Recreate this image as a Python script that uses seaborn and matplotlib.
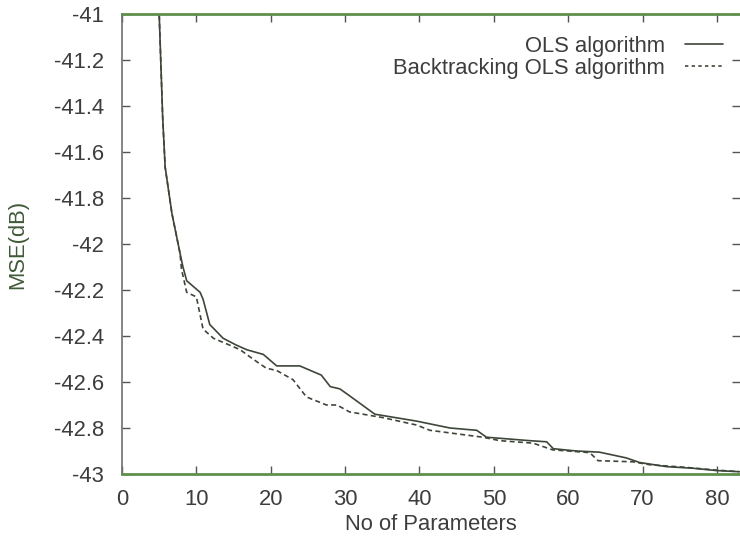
import numpy as np
import pandas as pd
import matplotlib
matplotlib.use("Agg")
import matplotlib.pyplot as plt
import seaborn as sns

# MSE (dB) against the number of model terms for both selection schemes
ols_x = [4.97, 5.24, 5.47, 5.8, 6.7, 7.8, 8.2, 8.7, 10.5, 10.9, 11.8, 13.6, 15.4,
         16.8, 19.0, 20.8, 23.9, 26.8, 28.0, 29.3, 30.6, 34.0, 39.6, 44.1, 47.7,
         49.0, 54.8, 57.1, 58.0, 61.1, 64.2, 67.8, 69.6, 73.2, 76.8, 79.9, 83.0]
ols_y = [-40.97, -41.23, -41.45, -41.665, -41.865, -42.04, -42.10, -42.16, -42.21,
         -42.24, -42.35, -42.41, -42.44, -42.46, -42.48, -42.53, -42.53, -42.57,
         -42.62, -42.63, -42.66, -42.74, -42.77, -42.80, -42.81, -42.84, -42.855,
         -42.86, -42.89, -42.90, -42.905, -42.93, -42.95, -42.968, -42.975, -42.985,
         -42.99]

bols_x = [4.97, 5.24, 5.47, 5.8, 6.7, 7.8, 8.0, 8.7, 10.0, 10.9, 12.3, 14.5, 15.9,
          17.6, 19.4, 20.8, 23.0, 24.8, 27.5, 28.9, 30.6, 35.1, 39.6, 41.4, 48.5,
          50.8, 55.3, 57.9, 62.9, 64.0, 68.7, 71.0, 75.4, 79.9, 83.0]
bols_y = [-40.97, -41.23, -41.45, -41.665, -41.865, -42.04, -42.11, -42.21, -42.23,
          -42.37, -42.41, -42.44, -42.46, -42.50, -42.54, -42.55, -42.59, -42.665,
          -42.70, -42.70, -42.73, -42.755, -42.787, -42.81, -42.84, -42.855, -42.866,
          -42.895, -42.907, -42.942, -42.947, -42.96, -42.97, -42.983, -42.99]

series_names = ["OLS algorithm", "Backtracking OLS algorithm"]
x_ticks = [0, 10, 20, 30, 40, 50, 60, 70, 80]
y_ticks = [-43, -42.8, -42.6, -42.4, -42.2, -42, -41.8, -41.6, -41.4, -41.2, -41]

df = pd.concat([
    pd.DataFrame({"params": ols_x, "mse": ols_y, "method": series_names[0]}),
    pd.DataFrame({"params": bols_x, "mse": bols_y, "method": series_names[1]}),
], ignore_index=True)

sns.set_theme(style="ticks")
plt.rcParams["font.family"] = ["Liberation Sans", "DejaVu Sans"]

text_col = "#3d3d3d"
line_col = "#3e4639"
green = "#5e8f4c"
fs = 15.8

fig = plt.figure(figsize=(7.40, 5.39), dpi=100)
ax = fig.add_axes([122 / 740, 1 - 474 / 539, 1 - 122 / 740, (474 - 14) / 539])

sns.lineplot(data=df, x="params", y="mse", hue="method", style="method",
             palette=[line_col, line_col], dashes=[(None, None), (3, 2)],
             linewidth=1.2, sort=False, estimator=None, ax=ax, legend=False)

ax.set_xlim(0, 83.1)
ax.set_ylim(-43, -41)
ax.set_xticks(x_ticks)
ax.set_yticks(y_ticks)
ax.set_yticklabels([f"{v:g}" for v in y_ticks])
ax.set_xticklabels([str(v) for v in x_ticks])

ax.tick_params(axis="x", direction="in", length=6, width=1.0, color="#555555",
               labelsize=fs, labelcolor=text_col, pad=11, top=True)
ax.tick_params(axis="y", direction="in", length=6, width=1.0, color="#555555",
               labelsize=fs, labelcolor=text_col, pad=13, right=True)
for t in ax.yaxis.get_ticklines()[1::2]:
    t.set_color("#dddddd")

for side in ["top", "bottom"]:
    ax.spines[side].set_color(green)
    ax.spines[side].set_linewidth(2.0)
ax.spines["left"].set_color("#6f6f6f")
ax.spines["left"].set_linewidth(1.2)
ax.spines["right"].set_visible(False)

ax.set_xlabel("No of Parameters", fontsize=fs, color=text_col, labelpad=3)
ax.set_ylabel("MSE(dB)", fontsize=fs, color="#3f5a36", labelpad=18)

handles = [plt.Line2D([], [], color=line_col, lw=1.2),
           plt.Line2D([], [], color=line_col, lw=1.2, dashes=(2, 2))]
ax.legend(handles, series_names, loc="upper right", markerfirst=False,
          frameon=False, fontsize=fs, labelcolor=text_col, handlelength=1.75,
          handletextpad=0.9, labelspacing=0.05, borderpad=0, borderaxespad=0,
          bbox_to_anchor=(723 / 740, 1 - 36 / 539), bbox_transform=fig.transFigure)

fig.savefig("out.png", dpi=100, facecolor="white")
